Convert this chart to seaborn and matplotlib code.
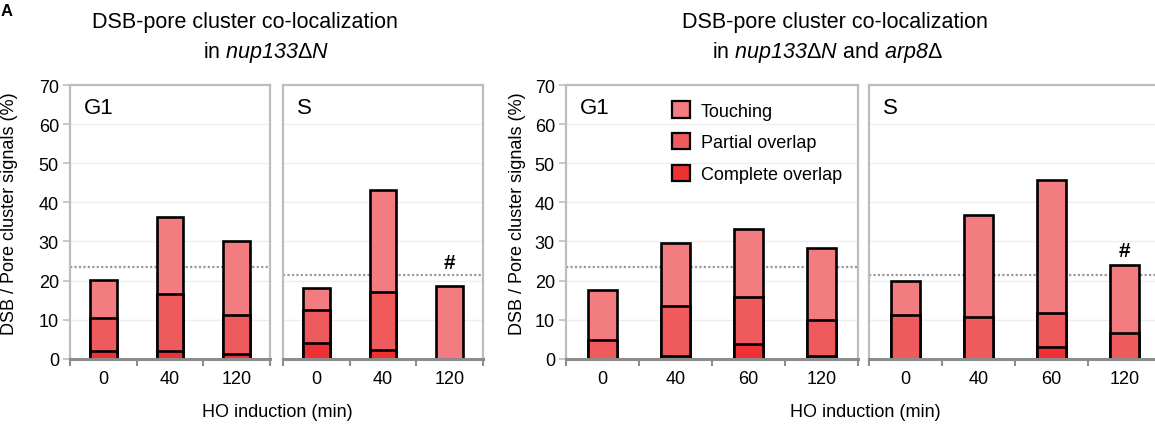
import numpy as np
import pandas as pd
import matplotlib
matplotlib.use("Agg")
import matplotlib.pyplot as plt
from matplotlib.patches import Patch
from matplotlib.ticker import FixedLocator
import seaborn as sns

# ---------------- data ----------------
times_left = ["0", "40", "120"]
times_right = ["0", "40", "60", "120"]

# nup133ΔN
left_g1_complete = [2.0, 2.0, 1.1]
left_g1_partial = [8.5, 14.6, 10.2]
left_g1_touching = [9.7, 19.6, 18.7]
left_s_complete = [4.0, 2.2, 0.0]
left_s_partial = [8.6, 14.8, 0.0]
left_s_touching = [5.4, 26.2, 18.7]

# nup133ΔN and arp8Δ
right_g1_complete = [0.0, 0.6, 3.8, 0.8]
right_g1_partial = [4.9, 13.0, 11.9, 9.2]
right_g1_touching = [12.8, 16.0, 17.6, 18.3]
right_s_complete = [0.0, 0.0, 2.9, 0.0]
right_s_partial = [11.3, 10.6, 8.7, 6.5]
right_s_touching = [8.7, 26.1, 34.1, 17.5]

reference_g1 = 23.4
reference_s = 21.4

series_names = ["Touching", "Partial overlap", "Complete overlap"]
y_ticks = [0, 10, 20, 30, 40, 50, 60, 70]

# ---------------- style ----------------
sns.set_style("white")
plt.rcParams["font.family"] = ["Liberation Sans", "DejaVu Sans"]
plt.rcParams["mathtext.fontset"] = "custom"
plt.rcParams["mathtext.sf"] = "Liberation Sans:italic"
plt.rcParams["mathtext.rm"] = "Liberation Sans"
plt.rcParams["text.color"] = "black"
plt.rcParams["axes.labelcolor"] = "black"
plt.rcParams["xtick.color"] = "black"
plt.rcParams["ytick.color"] = "black"

c_touch = "#F37C80"
c_partial = "#EF5A5C"
c_complete = "#EE3134"
frame_col = "#BDBDBD"
axis_col = "#8C8C8C"

W, H = 1155, 427
fig = plt.figure(figsize=(W / 100, H / 100), dpi=100)

y0_px, y70_px = 359.8, 86.0


def make_ax(left_px, width_px):
    return fig.add_axes([left_px / W, 1 - y0_px / H, width_px / W,
                         (y0_px - y70_px) / H])


def draw_panel(ax, times, complete, partial, touching, ref, label,
               show_y, hash_idx=None, hash_y=None):
    df = pd.DataFrame({
        "time": times,
        "complete": complete,
        "pc": np.array(complete) + np.array(partial),
        "total": np.array(complete) + np.array(partial) + np.array(touching),
    })
    for col, c in [("total", c_touch), ("pc", c_partial), ("complete", c_complete)]:
        sns.barplot(data=df, x="time", y=col, order=times, color=c,
                    saturation=1, edgecolor="black", linewidth=1.9,
                    width=0.4, errorbar=None, ax=ax, zorder=2)
    n = len(times)
    ax.set_xlim(-0.5, n - 0.5)
    ax.set_ylim(0, 70)
    ax.set_xlabel("")
    ax.set_ylabel("")
    for v in y_ticks[1:-1]:
        ax.axhline(v, color="#EEEEEE", lw=1.0, zorder=0.5)
    ax.axhline(ref, color="#999999", lw=1.6, ls=(0, (1, 1)), zorder=0.8)
    for side in ["top", "left", "right"]:
        ax.spines[side].set_color(frame_col)
        ax.spines[side].set_linewidth(1.6)
    ax.spines["bottom"].set_color(axis_col)
    ax.spines["bottom"].set_linewidth(2.2)
    ax.xaxis.set_minor_locator(FixedLocator(np.arange(-0.5, n, 1.0)))
    ax.tick_params(axis="x", which="major", length=0, pad=8, labelsize=13,
                   colors="black")
    ax.tick_params(axis="x", which="minor", length=5, width=1.5,
                   color=axis_col, direction="out", bottom=True)
    ax.set_yticks(y_ticks)
    if show_y:
        ax.tick_params(axis="y", length=5, width=1.2, color=frame_col,
                       pad=3, labelsize=13, left=True, labelcolor="black")
    else:
        ax.tick_params(axis="y", length=0, labelleft=False)
    ax.text(14 / (ax.get_position().width * W), 0.955, label,
            transform=ax.transAxes, ha="left", va="top", fontsize=16)
    if hash_idx is not None:
        ax.text(hash_idx, hash_y, "#", ha="center", va="center",
                fontsize=15, fontweight="bold")


ax1 = make_ax(70, 200)
ax2 = make_ax(283, 200)
ax3 = make_ax(566, 292)
ax4 = make_ax(869, 292)

draw_panel(ax1, times_left, left_g1_complete, left_g1_partial,
           left_g1_touching, reference_g1, "G1", True)
draw_panel(ax2, times_left, left_s_complete, left_s_partial,
           left_s_touching, reference_s, "S", False, 2, 24.7)
draw_panel(ax3, times_right, right_g1_complete, right_g1_partial,
           right_g1_touching, reference_g1, "G1", True)
draw_panel(ax4, times_right, right_s_complete, right_s_partial,
           right_s_touching, reference_s, "S", False, 3, 27.6)

handles = [Patch(facecolor=c, edgecolor="black", linewidth=1.6)
           for c in [c_touch, c_partial, c_complete]]
ax3.legend(handles, series_names, loc="upper left",
           bbox_to_anchor=(0.362, 0.94), frameon=False, fontsize=13,
           handlelength=1.0, handleheight=1.0, handletextpad=0.6,
           labelspacing=0.75, borderpad=0, borderaxespad=0)

# titles
fig.text(245 / W, 1 - 28 / H, "DSB-pore cluster co-localization",
         ha="center", va="baseline", fontsize=15.5)
fig.text(266 / W, 1 - 58 / H, r"in $\mathsf{nup133}$Δ$\mathsf{N}$",
         ha="center", va="baseline", fontsize=15.5)
fig.text(835 / W, 1 - 28 / H, "DSB-pore cluster co-localization",
         ha="center", va="baseline", fontsize=15.5)
fig.text(827 / W, 1 - 58 / H,
         r"in $\mathsf{nup133}$Δ$\mathsf{N}$ and $\mathsf{arp8}$Δ",
         ha="center", va="baseline", fontsize=15.5)

# axis labels
for xc in [10, 518]:
    fig.text(xc / W, 1 - 213.5 / H, "DSB / Pore cluster signals (%)",
             rotation=90, ha="center", va="center", fontsize=13)
for xc in [277, 865]:
    fig.text(xc / W, 1 - 416.7 / H, "HO induction (min)",
             ha="center", va="baseline", fontsize=13)

fig.text(1 / W, 1 - 4 / H, "A", ha="left", va="top",
         fontsize=12, fontweight="bold")

fig.savefig("out.png", dpi=100)
